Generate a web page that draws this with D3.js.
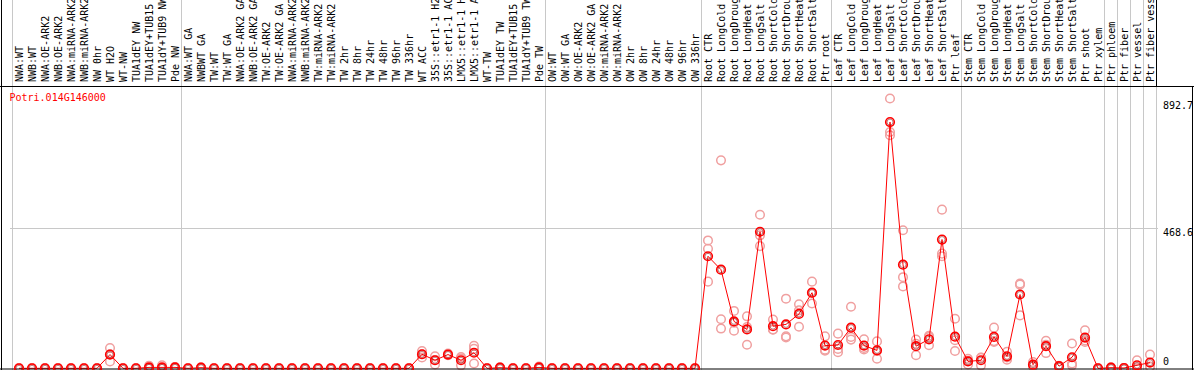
<!DOCTYPE html>
<html><head><meta charset="utf-8">
<script src="https://cdn.jsdelivr.net/npm/d3@7"></script>
<style>html,body{margin:0;padding:0;background:#fff;overflow:hidden}svg{display:block}</style>
</head><body><div id="chart"></div>
<script>
const geneId = "Potri.014G146000";
const categories = [
"NWA:WT","NWB:WT","NWA:OE-ARK2","NWB:OE-ARK2","NWA:miRNA-ARK2","NWB:miRNA-ARK2","NW 0hr","WT H2O","WT-NW","TUA1dEY NW","TUA1dEY+TUB15","TUA1dY+TUB9 NW","Pde NW",
"NWA:WT GA","NWBWT GA","TW:WT","TW:WT GA","NWA:OE-ARK2 GA","NWB:OE-ARK2 GA","TW:OE-ARK2","TW:OE-ARK2 GA","NWA:miRNA-ARK2","NWB:miRNA-ARK2","TW:miRNA-ARK2","TW:miRNA-ARK2","TW 2hr","TW 8hr","TW 24hr","TW 48hr","TW 96hr","TW 336hr","WT ACC","35S::etr1-1 H2O","35S::etr1-1 ACC","LMX5::etr1-1 H2O","LMX5::etr1-1 ACC","WT-TW","TUA1dEY TW","TUA1dEY+TUB15","TUA1dY+TUB9 TW","Pde TW",
"OW:WT","OW:WT GA","OW:OE-ARK2","OW:OE-ARK2 GA","OW:miRNA-ARK2","OW:miRNA-ARK2","OW 2hr","OW 8hr","OW 24hr","OW 48hr","OW 96hr","OW 336hr",
"Root CTR","Root LongCold","Root LongDrought","Root LongHeat","Root LongSalt","Root ShortCold","Root ShortDrought","Root ShortHeat","Root ShortSalt","Ptr root",
"Leaf CTR","Leaf LongCold","Leaf LongDrought","Leaf LongHeat","Leaf LongSalt","Leaf ShortCold","Leaf ShortDrought","Leaf ShortHeat","Leaf ShortSalt","Ptr leaf",
"Stem CTR","Stem LongCold","Stem LongDrought","Stem LongHeat","Stem LongSalt","Stem ShortCold","Stem ShortDrought","Stem ShortHeat","Stem ShortSalt","Ptr shoot","Ptr xylem",
"Ptr phloem","Ptr fiber","Ptr vessel","Ptr fiber vessel"];
// first category index of each group
const groupStarts = [0,13,41,53,63,73,84,85,86,87];
const meanValues = [
0,0,0,0,0,0,0,46,0,0,3,3,3,
0,2,0,0,0,0,0,0,0,0,0,0,0,0,0,0,0,0,47,27,46,27,52,0,2,0,0,3,
0,0,0,0,0,0,0,0,0,0,0,0,
375,330,157,130,457,141,147,182,253,76,
78,136,76,60,824,347,74,97,431,106,
23,27,105,40,247,12,74,7,37,103,0,
2,1,10,19];
const rep1 = [
0,0,0,0,0,0,0,68,0,0,8,10,4,
0,3,0,0,0,0,0,0,0,0,0,0,0,0,0,0,0,0,58,40,44,38,75,0,3,0,0,6,
0,0,0,0,0,0,0,0,0,0,0,0,
428,696,192,174,514,163,233,214,290,107,
116,206,97,90,903,462,96,105,531,166,
32,35,136,55,284,21,92,5,83,127,0,
3,1,27,46];
const rep2 = [
0,0,0,0,0,0,0,23,0,0,1,0,3,
0,2,0,0,0,0,0,0,0,0,0,0,0,0,0,0,0,0,36,13,49,10,16,0,2,0,0,2,
0,0,0,0,0,0,0,0,0,0,0,0,
400,164,126,79,445,130,107,194,217,59,
65,105,68,32,791,305,44,77,384,94,
13,10,88,29,177,8,51,8,16,88,0,
2,1,2,5];
const rep3 = [
0,0,0,0,0,0,0,47,0,0,0,0,2,
0,1,0,0,0,0,0,0,0,0,0,0,0,0,0,0,0,0,47,28,45,33,65,0,1,0,0,1,
0,0,0,0,0,0,0,0,0,0,0,0,
290,133,153,138,409,129,103,139,252,62,
54,96,63,58,780,274,82,109,375,58,
25,36,91,36,280,7,79,7,10,93,0,
1,1,1,6];
const yTickValues = [0, 468.6, 892.7];
const yGridValues = [468.6];

const W = 1194, H = 370;
const svg = d3.select("#chart").append("svg").attr("width", W).attr("height", H);
const font = "'DejaVu Sans Mono', monospace";

const x = d3.scalePoint().domain(d3.range(categories.length)).range([19, 19 + 13 * (categories.length - 1)]);
const y = d3.scaleLinear().domain([0, 892.7]).range([368.3, 101.6]);

// horizontal gridline
svg.selectAll("line.hgrid").data(yGridValues).join("line")
  .attr("x1", 10).attr("x2", 1158)
  .attr("y1", d => Math.round(y(d)) + 0.5).attr("y2", d => Math.round(y(d)) + 0.5)
  .attr("stroke", "#c8c8c8").attr("stroke-width", 1);

// group separators
const sepX = groupStarts.map(i => x(i) - 7).concat([x(categories.length - 1) + 6]);
svg.selectAll("line.vgrid").data(sepX).join("line")
  .attr("x1", d => Math.round(d) + 0.5).attr("x2", d => Math.round(d) + 0.5)
  .attr("y1", 0).attr("y2", 370)
  .attr("stroke", "#c8c8c8").attr("stroke-width", 1);
// header right edge
svg.append("line").attr("x1", Math.round(sepX[sepX.length-1]) + 0.5).attr("x2", Math.round(sepX[sepX.length-1]) + 0.5)
  .attr("y1", 0).attr("y2", 86).attr("stroke", "#000");

// column labels
svg.append("g").selectAll("text").data(categories).join("text")
  .attr("transform", (d, i) => `translate(${x(i) + 3.5},82) rotate(-90)`)
  .attr("font-family", font).attr("font-size", 10).attr("fill", "#000")
  .text(d => d);

// borders
svg.append("line").attr("x1", 0).attr("x2", W).attr("y1", 86.5).attr("y2", 86.5).attr("stroke", "#000");
svg.append("line").attr("x1", 1.5).attr("x2", 1.5).attr("y1", 0).attr("y2", H).attr("stroke", "#000");
svg.append("line").attr("x1", 1192.5).attr("x2", 1192.5).attr("y1", 86).attr("y2", H).attr("stroke", "#000");

// title
svg.append("text").attr("x", 9.5).attr("y", 101).attr("font-family", font).attr("font-size", 10)
  .attr("fill", "#ff0000").text(geneId);

// y labels
svg.selectAll("text.ylab").data(yTickValues).join("text")
  .attr("x", 1163).attr("y", d => d === 0 ? y(d) - 3 : y(d) + 7.5)
  .attr("font-family", font).attr("font-size", 10).attr("fill", "#000")
  .text(d => d === 0 ? "0" : d.toFixed(1));

// replicates
const repPts = [];
[rep1, rep2, rep3].forEach(arr => arr.forEach((v, i) => repPts.push({i, v})));
svg.append("g").selectAll("circle").data(repPts).join("circle")
  .attr("cx", d => x(d.i)).attr("cy", d => y(d.v)).attr("r", 4.3)
  .attr("fill", "none").attr("stroke", "#f0a0a0").attr("stroke-width", 1.5);

// mean line
svg.append("path").datum(meanValues)
  .attr("d", d3.line().x((d, i) => x(i)).y(d => y(d)))
  .attr("fill", "none").attr("stroke", "#ff0000").attr("stroke-width", 1);

// bottom border
svg.append("line").attr("x1", 0).attr("x2", W).attr("y1", 369).attr("y2", 369).attr("stroke", "#000").attr("stroke-width", 1);

// mean points
const mg = svg.append("g");
mg.selectAll("circle.o").data(meanValues).join("circle")
  .attr("cx", (d, i) => x(i)).attr("cy", d => y(d)).attr("r", 4.3)
  .attr("fill", "none").attr("stroke", "#ff0000").attr("stroke-width", 1.6);
mg.selectAll("circle.in").data(meanValues).join("circle")
  .attr("cx", (d, i) => x(i)).attr("cy", d => y(d)).attr("r", 3)
  .attr("fill", "none").attr("stroke", "#800000").attr("stroke-width", 0.5);
</script></body></html>
